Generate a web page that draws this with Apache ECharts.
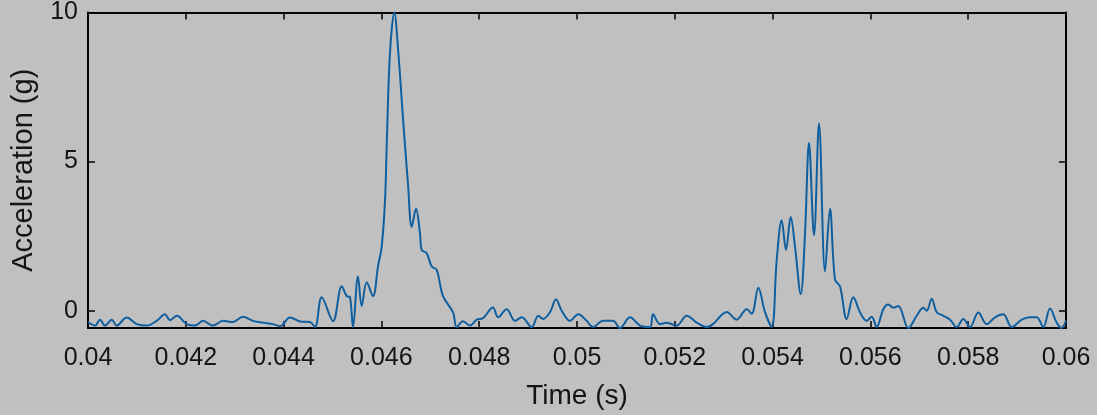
<!DOCTYPE html>
<html>
<head>
<meta charset="utf-8">
<script src="https://cdn.jsdelivr.net/npm/echarts@6/dist/echarts.min.js"></script>
<style>
html,body{margin:0;padding:0;background:#c0c0c0;}
#c{width:1097px;height:415px;}
</style>
</head>
<body>
<div id="c"></div>
<script>
const timeS = [0.04000,0.040143,0.040245,0.040348,0.040485,0.040587,0.040791,0.040996,0.041200,0.041405,
0.041575,0.041677,0.041814,0.042018,0.042188,0.042352,0.042556,0.042761,0.042965,0.043170,
0.043374,0.043579,0.043783,0.043926,0.044131,0.044335,0.044540,0.044642,0.044779,0.045010,
0.045188,0.045290,0.045358,0.045419,0.045521,0.045597,0.045699,0.045828,0.045930,0.046006,
0.046074,0.046115,0.046176,0.046264,0.046346,0.046442,0.046544,0.046620,0.046708,0.046789,
0.046824,0.046926,0.047029,0.047131,0.047260,0.047464,0.047540,0.047669,0.047812,0.047949,
0.048078,0.048282,0.048385,0.048562,0.048732,0.048869,0.049074,0.049209,0.049305,0.049448,
0.049571,0.049687,0.049857,0.050027,0.050198,0.050327,0.050532,0.050736,0.050879,0.051084,
0.051288,0.051493,0.051554,0.051697,0.051834,0.052039,0.052243,0.052448,0.052652,0.052781,
0.053061,0.053266,0.053470,0.053573,0.053708,0.053845,0.053982,0.054084,0.054186,0.054274,
0.054370,0.054458,0.054575,0.054663,0.054744,0.054847,0.054949,0.055072,0.055174,0.055276,
0.055378,0.055515,0.055650,0.055787,0.055924,0.056026,0.056129,0.056264,0.056366,0.056468,
0.056571,0.056775,0.056947,0.057082,0.057151,0.057254,0.057356,0.057491,0.057628,0.057765,
0.057900,0.058037,0.058207,0.058378,0.058548,0.058718,0.058890,0.059094,0.059264,0.059401,
0.059536,0.059673,0.059810,0.059912,0.060000];
const accelG = [-0.38,-0.5,-0.3,-0.5,-0.3,-0.5,-0.23,-0.45,-0.5,-0.34,
-0.12,-0.32,-0.17,-0.45,-0.5,-0.34,-0.5,-0.34,-0.38,-0.2,
-0.34,-0.4,-0.45,-0.52,-0.23,-0.36,-0.38,-0.55,0.45,-0.35,
0.82,0.49,0.45,-0.55,1.15,0.16,0.95,0.49,1.48,2.15,
3.7,5.9,8.66,10.0,8.66,6.44,4.25,2.81,3.42,2.6,
2.04,1.93,1.48,1.37,0.49,-0.05,-0.55,-0.35,-0.5,-0.3,
-0.25,0.11,-0.22,0.05,-0.34,-0.22,-0.55,-0.17,-0.28,-0.05,
0.38,0.0,-0.34,-0.12,-0.34,-0.55,-0.34,-0.34,-0.58,-0.22,
-0.5,-0.55,-0.12,-0.45,-0.4,-0.5,-0.17,-0.4,-0.55,-0.45,
-0.04,-0.3,0.05,-0.1,0.77,-0.05,-0.55,1.7,3.03,2.04,
3.14,2.15,0.55,2.6,5.62,2.53,6.28,1.32,3.42,1.04,
0.82,-0.28,0.45,-0.05,-0.34,-0.2,-0.55,0.05,0.21,0.1,
0.16,-0.58,-0.17,0.1,0.0,0.4,-0.05,-0.17,-0.3,-0.55,
-0.28,-0.55,-0.06,-0.45,-0.22,-0.12,-0.55,-0.3,-0.22,-0.22,
-0.55,0.07,-0.4,-0.58,-0.33];
const xTicks = [0.04,0.042,0.044,0.046,0.048,0.05,0.052,0.054,0.056,0.058,0.06];
const xTickLabels = ['0.04','0.042','0.044','0.046','0.048','0.05','0.052','0.054','0.056','0.058','0.06'];
const yTicks = [0,5,10];
const yTickLabels = ['0','5','10'];
const xLabel = 'Time (s)';
const yLabel = 'Acceleration (g)';

const chart = echarts.init(document.getElementById('c'), null, {renderer:'canvas'});
const font = '"Liberation Sans", Arial, Helvetica, sans-serif';
const axLine = {show:true, onZero:false, lineStyle:{color:'#000', width:2}};
const tickIn = (vals)=>({show:true, inside:true, length:7, customValues:vals, lineStyle:{color:'#000', width:1.5}});
chart.setOption({
  backgroundColor:'#c0c0c0',
  animation:false,
  grid:{left:88, right:31, top:9, bottom:86, show:false},
  xAxis:[{
    type:'value', min:0.04, max:0.06, position:'bottom',
    axisLine:axLine, axisTick:tickIn(xTicks), splitLine:{show:false},
    axisLabel:{customValues:xTicks, formatter:(v)=>{const i=xTicks.findIndex(t=>Math.abs(t-v)<1e-9);return i>=0?xTickLabels[i]:'';},
      color:'#141414', fontFamily:font, fontSize:25, margin:18},
    name:xLabel, nameLocation:'middle', nameGap:54,
    nameTextStyle:{color:'#141414', fontFamily:font, fontSize:28}
  },{
    type:'value', min:0.04, max:0.06, position:'top',
    axisLine:axLine, axisTick:tickIn(xTicks), axisLabel:{show:false}, splitLine:{show:false}
  }],
  yAxis:[{
    type:'value', min:-0.58, max:10, position:'left',
    axisLine:axLine, axisTick:tickIn(yTicks), splitLine:{show:false},
    axisLabel:{customValues:yTicks, formatter:(v)=>{const i=yTicks.indexOf(v);return i>=0?yTickLabels[i]:'';},
      color:'#141414', fontFamily:font, fontSize:25, margin:10},
    name:yLabel, nameLocation:'middle', nameGap:50, nameRotate:90,
    nameTextStyle:{color:'#141414', fontFamily:font, fontSize:29}
  },{
    type:'value', min:-0.58, max:10, position:'right',
    axisLine:axLine, axisTick:tickIn(yTicks), axisLabel:{show:false}, splitLine:{show:false}
  }],
  series:[{
    type:'line', xAxisIndex:0, yAxisIndex:0,
    data:timeS.map((t,i)=>[t, accelG[i]]),
    showSymbol:false, smooth:0.35, clip:true,
    lineStyle:{color:'#0f5f9f', width:2}
  }]
});
</script>
</body>
</html>
